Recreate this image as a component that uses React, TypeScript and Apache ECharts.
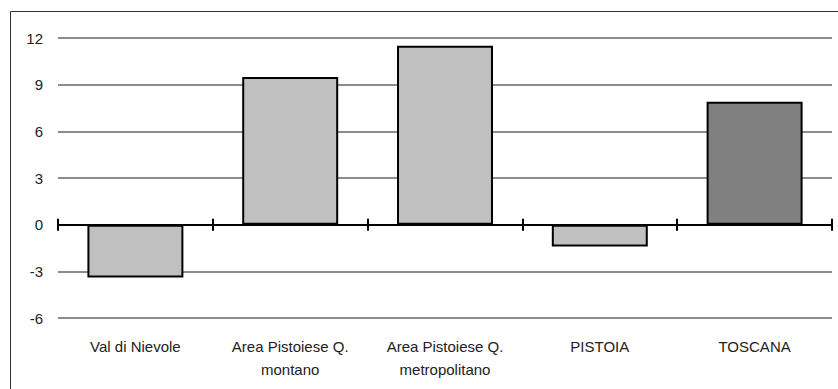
import React, { useEffect, useRef } from "react";
import * as echarts from "echarts";

const categories = [
  "Val di Nievole",
  "Area Pistoiese Q.\nmontano",
  "Area Pistoiese Q.\nmetropolitano",
  "PISTOIA",
  "TOSCANA",
];
const values = [-3.4, 9.5, 11.5, -1.4, 7.9];
const barColors = ["#c0c0c0", "#c0c0c0", "#c0c0c0", "#c0c0c0", "#808080"];
const yMin = -6;
const yMax = 12;
const yInterval = 3;

const FONT = "'Liberation Sans', Arial, sans-serif";

export default function App() {
  const ref = useRef<HTMLDivElement>(null);
  useEffect(() => {
    if (!ref.current) return;
    const chart = echarts.init(ref.current, undefined, { renderer: "svg" });
    const gridBase = {
      left: 58,
      right: 6,
      top: 38,
      bottom: 71,
      containLabel: false,
      outerBoundsMode: "none",
    };
    chart.setOption({
      animation: false,
      backgroundColor: "#ffffff",
      graphic: [
        {
          type: "rect",
          shape: { x: 10.5, y: 11.5, width: 1000, height: 1000 },
          style: { fill: "none", stroke: "#333333", lineWidth: 1 },
          silent: true,
          z: -10,
        },
      ],
      grid: [gridBase, { ...gridBase }],
      xAxis: [
        {
          type: "category",
          gridIndex: 0,
          data: categories,
          position: "bottom",
          axisLine: { onZero: true, lineStyle: { color: "#000000", width: 2 } },
          axisTick: { show: true, length: 6, lineStyle: { color: "#000000", width: 2 } },
          axisLabel: {
            margin: 17,
            fontFamily: FONT,
            fontSize: 15,
            lineHeight: 23,
            color: "#222222",
            interval: 0,
          },
          splitLine: { show: false },
          z: 5,
        },
        {
          type: "category",
          gridIndex: 1,
          data: categories,
          position: "bottom",
          axisLine: { onZero: true, lineStyle: { color: "#000000", width: 2 } },
          axisTick: {
            show: true,
            inside: true,
            length: 6,
            lineStyle: { color: "#000000", width: 2 },
          },
          axisLabel: { show: false },
          splitLine: { show: false },
          z: 5,
        },
      ],
      yAxis: [
        {
          type: "value",
          gridIndex: 0,
          min: yMin,
          max: yMax,
          interval: yInterval,
          axisLine: { show: false },
          axisTick: { show: false },
          axisLabel: {
            margin: 15,
            fontFamily: FONT,
            fontSize: 15,
            color: "#222222",
          },
          splitLine: { lineStyle: { color: "#8c8c8c", width: 2 } },
        },
        {
          type: "value",
          gridIndex: 1,
          min: yMin,
          max: yMax,
          interval: yInterval,
          axisLine: { show: false },
          axisTick: { show: false },
          axisLabel: { show: false },
          splitLine: { show: false },
        },
      ],
      series: [
        {
          type: "bar",
          xAxisIndex: 0,
          yAxisIndex: 0,
          barWidth: "62%",
          data: values.map((v, i) => ({
            value: v,
            itemStyle: { color: barColors[i] },
          })),
          itemStyle: { borderColor: "#000000", borderWidth: 2 },
        },
      ],
    });
    return () => chart.dispose();
  }, []);
  return (
    <div
      ref={ref}
      style={{ position: "absolute", left: 0, top: 0, width: 838, height: 389 }}
    />
  );
}
